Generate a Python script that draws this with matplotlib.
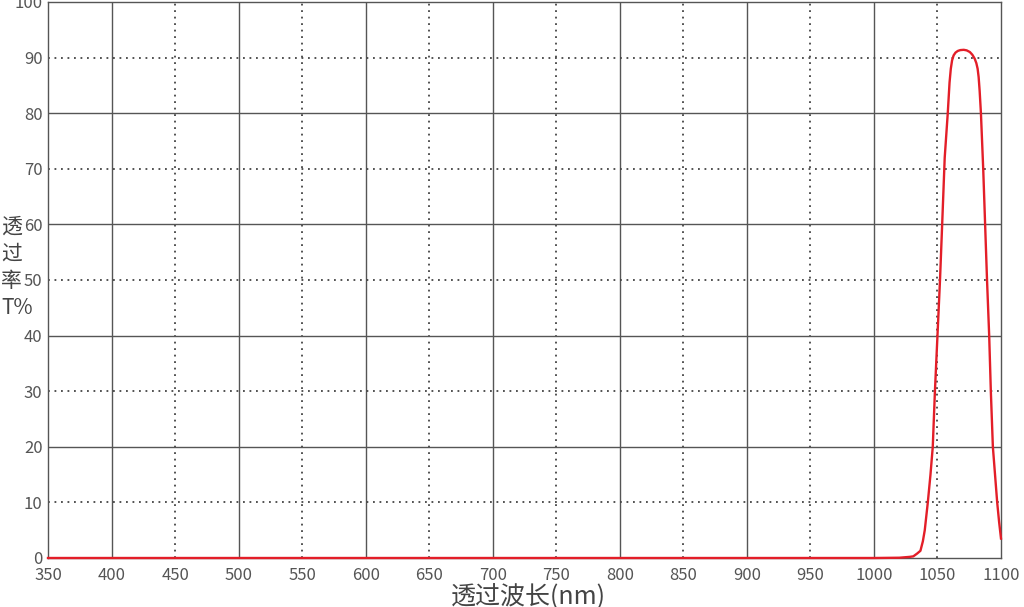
import numpy as np
import matplotlib
matplotlib.use("Agg")
import matplotlib.pyplot as plt

plt.rcParams['font.family'] = ['Noto Sans CJK SC', 'DejaVu Sans']

# transmission curve
wavelength = [350, 1000, 1020, 1028, 1031, 1034, 1036.6, 1038.5, 1040, 1042.4,
              1044.5, 1046.3, 1048, 1050, 1052, 1053.7, 1055.7, 1058.1, 1059.5,
              1060.5, 1061.5, 1062.7, 1064.2, 1066, 1068, 1070.7, 1073, 1075.5,
              1077.5, 1079.3, 1080.6, 1081.6, 1082.4, 1083.2, 1084.2, 1086,
              1087.5, 1089, 1090.7, 1092, 1093.6, 1095.3, 1097, 1098.5, 1100]
transmission = [0, 0, 0.05, 0.2, 0.3, 0.8, 1.3, 3, 5, 10,
                15, 20, 30, 40, 50, 60, 72, 80, 85.5,
                88, 89.5, 90.4, 90.9, 91.2, 91.35, 91.4, 91.3, 91.0,
                90.5, 89.8, 89.0, 88.0, 86.5, 84, 80, 70,
                60, 50, 40, 30, 20, 15, 10, 6.5, 3.5]

x_ticks = list(range(350, 1101, 50))
y_ticks = list(range(0, 101, 10))

grid_col = '#555555'
text_col = '#555555'

fig = plt.figure(figsize=(10.24, 6.07), dpi=100)
ax = fig.add_axes([48 / 1024, 49 / 607, 953 / 1024, 556 / 607])
ax.set_xlim(350, 1100)
ax.set_ylim(0, 100)

# grid: solid every 100 nm / 20 %, dotted in between
dots = (0, (1.0, 2.6))
for x in x_ticks[1:-1]:
    if x % 100 == 0:
        ax.axvline(x, color=grid_col, lw=1.0, zorder=1)
    else:
        ax.axvline(x, color='#444444', lw=1.3, ls=dots, zorder=1)
for y in y_ticks[1:-1]:
    if y % 20 == 0:
        ax.axhline(y, color=grid_col, lw=1.0, zorder=1)
    else:
        ax.axhline(y, color='#444444', lw=1.3, ls=dots, zorder=1)

ax.plot(wavelength, transmission, color='#e31e28', lw=1.7, zorder=3,
        clip_on=False, solid_joinstyle='round')

for s in ax.spines.values():
    s.set_color(grid_col)
    s.set_linewidth(1.0)

ax.set_xticks(x_ticks)
ax.set_yticks(y_ticks)
ax.tick_params(length=0, labelsize=12, colors=text_col)
ax.tick_params(axis='x', pad=6.5)
ax.tick_params(axis='y', pad=4)
for lab in ax.get_xticklabels() + ax.get_yticklabels():
    lab.set_fontweight('light')

fig.text(528 / 1024, 1 - 597 / 607, '透过波长(nm)', ha='center', va='center',
         fontsize=18, color='#444444', fontweight='light')
fig.text(1 / 1024, 1 - 267 / 607, '透\n过\n率\nT%', ha='left', va='center',
         fontsize=15, color='#444444', linespacing=1.3, fontweight='light')

fig.savefig('out.png', dpi=100)
